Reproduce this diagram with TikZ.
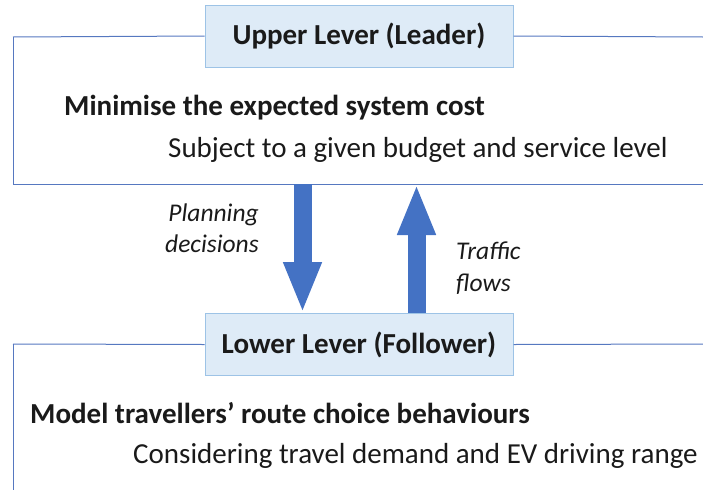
\documentclass[tikz,border=0pt]{standalone}
\usepackage{fontspec}
\setmainfont{Carlito}
\usetikzlibrary{calc,arrows.meta,positioning}
\definecolor{frameblue}{HTML}{5678C0}
\definecolor{labelfill}{HTML}{DEEBF7}
\definecolor{labeldraw}{HTML}{9DC3E6}
\definecolor{arrowblue}{HTML}{4472C4}
\definecolor{textblack}{HTML}{1A1A1A}

\begin{document}
\begin{tikzpicture}[
        x=1pt, y=-1pt,
        level label/.style={draw=labeldraw, fill=labelfill, line width=1pt, minimum width=308pt, minimum height=62pt, inner sep=0pt, text=textblack, font=\fontsize{29}{34}\selectfont\bfseries},
        frame line/.style={draw=frameblue, line width=1pt},
        main text/.style={anchor=base west, inner sep=0pt, text=textblack, font=\fontsize{29}{34}\selectfont\bfseries},
        sub text/.style={anchor=base west, inner sep=0pt, text=textblack, font=\fontsize{29}{34}\selectfont},
        flow label/.style={inner sep=0pt, text=textblack, font=\fontsize{25.5}{31.5}\selectfont\itshape},
        flow arrow/.style={arrowblue, line width=18pt, -{Triangle[width=35pt,length=51pt]}}
    ]
    \useasboundingbox (0,0) rectangle (703,490);

    % upper level
    \coordinate (utl) at (13,37);
    \coordinate (ubl) at (13,184);
    \coordinate (ubr) at (703,184);
    \coordinate (utr) at (703,37);
    \draw[frame line] (utl) -- (ubl) -- (ubr);
    \node[level label] (upper) at (359,36) {Upper Lever (Leader)};
    \draw[frame line] (upper.west) -- (utl);
    \draw[frame line] (upper.east) -- (utr);
    \node[main text] (uobj) at (64,115) {Minimise the expected system cost};
    \node[sub text] (ucon) at (168,157) {Subject to a given budget and service level};

    % lower level
    \coordinate (ltl) at (13,344);
    \coordinate (lbl) at (13,490);
    \coordinate (ltr) at (703,344);
    \draw[frame line] (ltl) -- (lbl);
    \node[level label] (lower) at (359,344.5) {Lower Lever (Follower)};
    \draw[frame line] (lower.west) -- (ltl);
    \draw[frame line] (lower.east) -- (ltr);
    \node[main text] (lobj) at (30,423) {Model travellers’ route choice behaviours};
    \node[sub text] (lcon) at (133,463) {Considering travel demand and EV driving range};

    % exchange between levels
    \coordinate (ubot) at (359,184);
    \draw[flow arrow] ([xshift=-56.5pt]ubot) -- ([xshift=-56.5pt]lower.north);
    \draw[flow arrow] ([xshift=57.5pt]lower.north) -- ([xshift=57.5pt]ubot);
    \node[flow label, align=right, anchor=east] (plan) at (259,228) {Planning\\decisions};
    \node[flow label, align=left, anchor=west] (traffic) at (456,268) {Traffic\\flows};

\end{tikzpicture}
\end{document}
